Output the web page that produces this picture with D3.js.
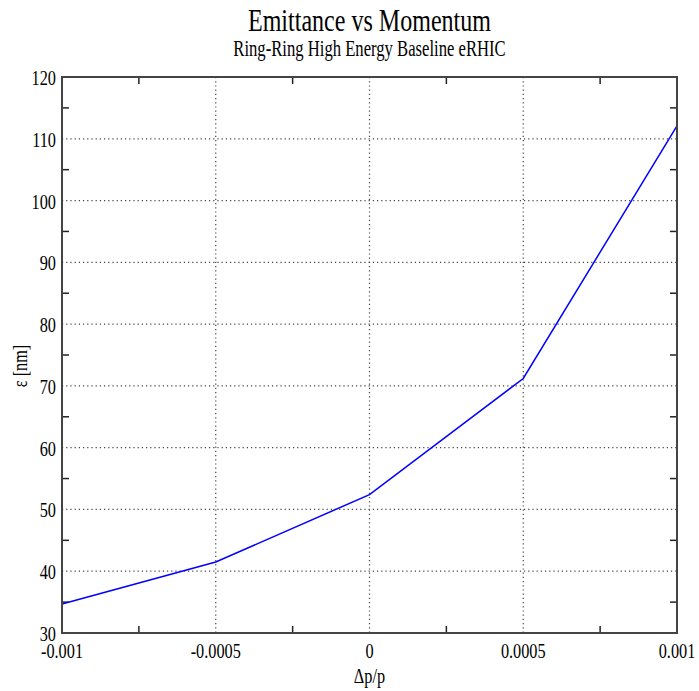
<!DOCTYPE html>
<html><head><meta charset="utf-8">
<script src="https://cdn.jsdelivr.net/npm/d3@7"></script>
<style>body{margin:0;background:#fff;} text{font-family:"Liberation Serif","Times New Roman",serif;}</style>
</head><body>
<svg id="c" width="699" height="691"></svg>
<script>
const momentum = [-0.001, -0.0005, 0, 0.0005, 0.001];
const emittance = [34.7, 41.5, 52.4, 71.2, 112.1];
const xTicks = [-0.001, -0.0005, 0, 0.0005, 0.001];
const xTickLabels = ["-0.001", "-0.0005", "0", "0.0005", "0.001"];
const xMinor = [-0.00075, -0.00025, 0.00025, 0.00075];
const yTicks = [30, 40, 50, 60, 70, 80, 90, 100, 110, 120];
const yMinor = [35, 45, 55, 65, 75, 85, 95, 105, 115];

const svg = d3.select("#c");
const L = 62, R = 677, T = 77, B = 633;
const x = d3.scaleLinear().domain([-0.001, 0.001]).range([L, R]);
const y = d3.scaleLinear().domain([30, 120]).range([B, T]);
const sx = 0.74;

function ctext(g, px, py, str, size, opts={}) {
  return g.append("text")
    .attr("transform", `translate(${px},${py})` + (opts.rot ? ` rotate(${opts.rot})` : "") + ` scale(${sx},1)`)
    .attr("text-anchor", opts.anchor || "middle")
    .attr("font-size", size)
    .attr("fill", "#000")
    .text(str);
}

// grid
svg.append("g").selectAll("line").data(yTicks.filter(v => v > 30 && v < 120)).join("line")
  .attr("x1", L).attr("x2", R).attr("y1", d => y(d)).attr("y2", d => y(d))
  .attr("stroke", "#444").attr("stroke-width", 1.2).attr("stroke-dasharray", "1.2,3");
svg.append("g").selectAll("line").data(xTicks.filter(v => v > -0.001 && v < 0.001)).join("line")
  .attr("y1", T).attr("y2", B).attr("x1", d => x(d)).attr("x2", d => x(d))
  .attr("stroke", "#444").attr("stroke-width", 1.2).attr("stroke-dasharray", "1.2,3");

// minor ticks (inward), all four sides
const tk = 7;
const mg = svg.append("g").attr("stroke", "#222").attr("stroke-width", 1.5);
xMinor.forEach(v => {
  mg.append("line").attr("x1", x(v)).attr("x2", x(v)).attr("y1", B).attr("y2", B - tk);
  mg.append("line").attr("x1", x(v)).attr("x2", x(v)).attr("y1", T).attr("y2", T + tk);
});
yMinor.forEach(v => {
  mg.append("line").attr("x1", L).attr("x2", L + tk).attr("y1", y(v)).attr("y2", y(v));
  mg.append("line").attr("x1", R).attr("x2", R - tk).attr("y1", y(v)).attr("y2", y(v));
});

// data line
const line = d3.line().x((d, i) => x(momentum[i])).y(d => y(d));
svg.append("path").attr("d", line(emittance)).attr("fill", "none")
  .attr("stroke", "#0000ff").attr("stroke-width", 1.5);

// frame
svg.append("rect").attr("x", L).attr("y", T).attr("width", R - L).attr("height", B - T)
  .attr("fill", "none").attr("stroke", "#444").attr("stroke-width", 2);

// tick labels
const lg = svg.append("g");
yTicks.forEach(v => ctext(lg, L - 6, y(v) + 8, String(v), 22, {anchor: "end"}));
xTicks.forEach((v, i) => ctext(lg, x(v), B + 25, xTickLabels[i], 22));

// titles
ctext(svg, (L + R) / 2, 31, "Emittance vs Momentum", 32.5);
ctext(svg, (L + R) / 2, 56, "Ring-Ring High Energy Baseline eRHIC", 22.5);
ctext(svg, (L + R) / 2, 683, "Δp/p", 22);
ctext(svg, 27, 366, "ε [nm]", 22, {rot: -90});
</script>
</body></html>
